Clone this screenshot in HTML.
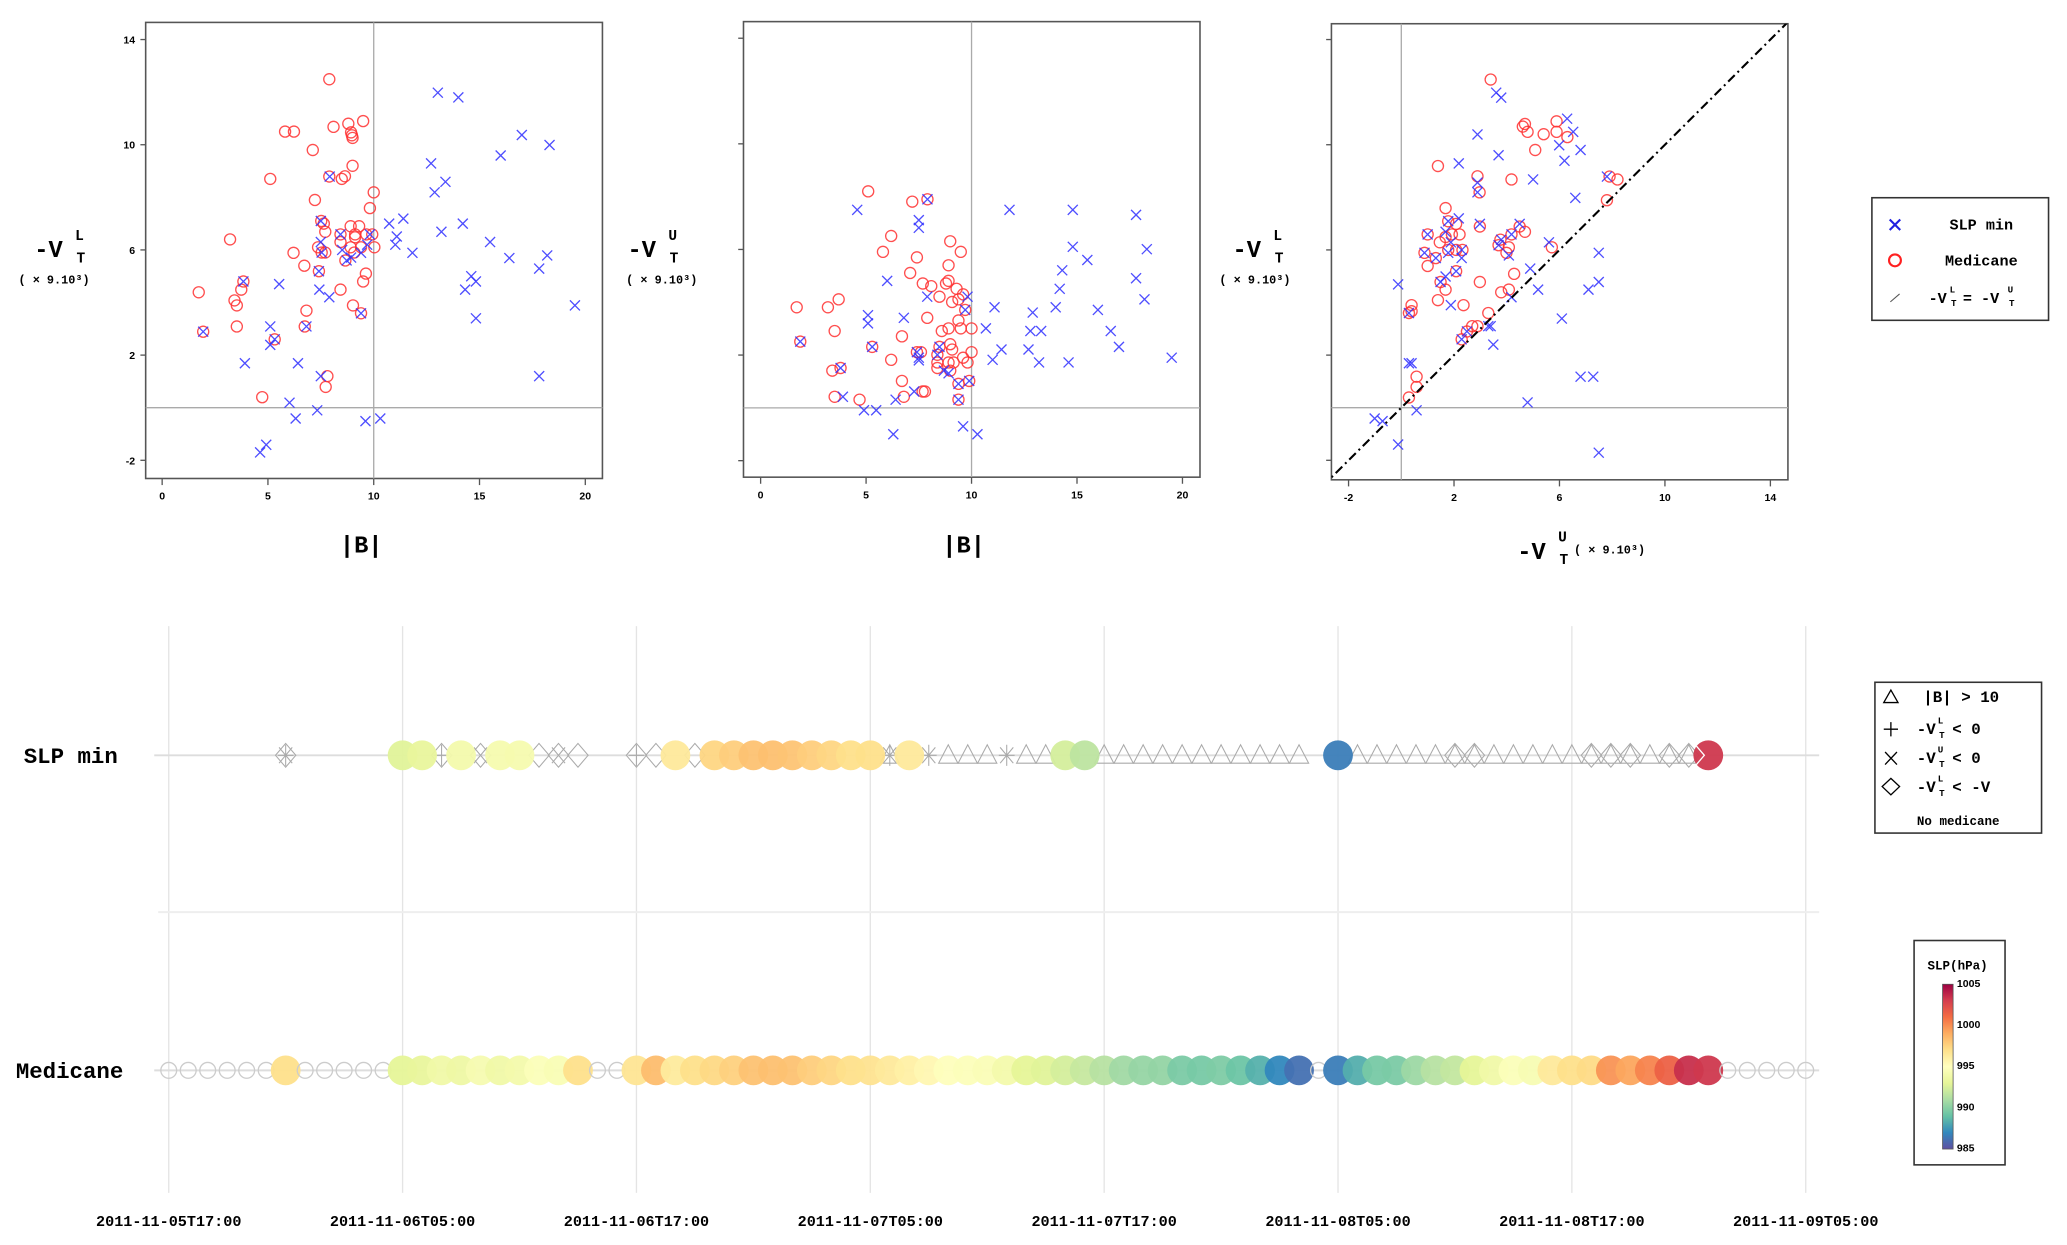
<!DOCTYPE html>
<html><head><meta charset="utf-8"><style>
html,body{margin:0;padding:0;background:#fff;}
svg{display:block;}
text{font-family:"Liberation Mono",monospace;font-weight:bold;fill:#000;}
.tk{font-family:"Liberation Sans",sans-serif;font-size:8px;}
</style></head><body>
<svg id="fig" width="2067" height="1245" viewBox="0 0 1568 944.5" preserveAspectRatio="none" xmlns="http://www.w3.org/2000/svg">
<defs>
<clipPath id="c1"><rect x="110.5" y="17" width="346.5" height="346"/></clipPath>
<clipPath id="c2"><rect x="564" y="16.4" width="346.3" height="345.6"/></clipPath>
<clipPath id="c3"><rect x="1010" y="18" width="346.3" height="346"/></clipPath>
<linearGradient id="cbg" x1="0" y1="1" x2="0" y2="0">
<stop offset="0" stop-color="#5e4fa2"/><stop offset="0.1" stop-color="#3288bd"/><stop offset="0.2" stop-color="#66c2a5"/><stop offset="0.3" stop-color="#abdda4"/><stop offset="0.4" stop-color="#e6f598"/><stop offset="0.5" stop-color="#ffffbf"/><stop offset="0.6" stop-color="#fee08b"/><stop offset="0.7" stop-color="#fdae61"/><stop offset="0.8" stop-color="#f46d43"/><stop offset="0.9" stop-color="#d53e4f"/><stop offset="1" stop-color="#9e0142"/>
</linearGradient>
</defs>
<g id="scatters"></g>
<g id="timeline"></g>
<g id="legends"></g>
</svg>
<script>
// ---------- Scatter data ----------
const p1MedB = [7.9,5.81,6.23,8.1,8.8,9.5,8.93,8.97,9.0,7.12,9.0,5.11,7.9,8.49,8.64,10.0,7.22,9.82,7.52,7.64,7.71,8.91,9.31,8.43,9.12,9.12,9.65,9.93,8.43,8.91,9.4,10.03,3.21,6.21,7.37,7.54,7.71,9.08,8.66,6.72,7.41,9.63,9.5,3.84,3.74,8.43,1.73,3.42,3.53,9.02,6.82,9.4,3.53,6.74,1.94,5.32,7.81,7.73,4.73];
const p1MedV = [12.49,10.5,10.5,10.68,10.8,10.9,10.47,10.36,10.26,9.8,9.2,8.7,8.79,8.7,8.8,8.19,7.9,7.59,7.1,7.0,6.69,6.9,6.9,6.59,6.59,6.48,6.59,6.59,6.3,6.1,6.1,6.1,6.4,5.89,6.1,5.9,5.9,5.9,5.6,5.4,5.19,5.1,4.8,4.8,4.49,4.49,4.39,4.08,3.89,3.89,3.69,3.59,3.09,3.09,2.89,2.6,1.2,0.79,0.4];
const p1SlpB = [13.03,14.0,17.0,18.31,16.0,12.71,13.39,12.88,7.92,11.4,10.73,14.21,13.2,11.09,11.02,11.83,15.5,16.41,18.2,17.82,14.61,14.83,14.32,19.51,14.83,17.82,7.5,7.5,7.54,8.43,8.51,9.82,9.69,8.72,8.93,9.4,7.41,7.43,7.9,5.53,3.84,9.4,5.11,6.82,1.94,5.32,5.11,3.91,6.42,7.5,6.02,7.33,6.31,9.61,10.31,4.92,4.63];
const p1SlpV = [11.98,11.8,10.37,9.99,9.59,9.29,8.59,8.19,8.79,7.19,7.0,7.0,6.69,6.51,6.2,5.89,6.3,5.69,5.79,5.29,5.0,4.8,4.49,3.89,3.4,1.2,7.1,6.3,5.9,6.59,6.0,6.59,6.2,5.6,5.71,5.89,5.19,4.49,4.2,4.7,4.8,3.59,3.09,3.09,2.89,2.6,2.39,1.69,1.69,1.2,0.19,-0.1,-0.41,-0.51,-0.41,-1.41,-1.7];

const p2MedB = [5.1,7.19,7.91,6.19,5.8,7.41,8.99,9.49,8.91,7.09,8.91,8.79,7.69,8.09,9.29,9.6,8.48,9.38,9.08,9.7,1.71,3.19,3.7,7.9,9.38,3.51,8.59,8.91,9.49,10.0,6.7,1.88,5.29,8.99,9.08,10.0,8.48,7.41,7.6,8.38,6.19,8.38,8.91,9.15,9.6,9.81,3.4,3.79,8.38,8.99,6.7,9.89,9.38,3.51,6.79,7.68,7.79,4.69,9.38];
const p2MedV = [8.2,7.81,7.9,6.51,5.91,5.7,6.31,5.91,5.4,5.11,4.81,4.71,4.71,4.61,4.51,4.3,4.21,4.11,4.01,3.71,3.81,3.81,4.11,3.41,3.31,2.91,2.91,3.01,3.01,3.01,2.71,2.51,2.31,2.41,2.21,2.11,2.31,2.11,2.11,2.01,1.82,1.72,1.72,1.72,1.9,1.72,1.41,1.51,1.51,1.41,1.02,1.02,0.91,0.42,0.42,0.62,0.62,0.31,0.31];
const p2SlpB = [4.58,7.91,7.5,7.5,11.8,14.8,17.8,14.8,18.31,15.49,14.3,6.0,17.8,14.18,7.9,9.81,18.2,11.09,13.99,9.7,12.9,15.99,5.09,5.09,6.79,10.68,12.79,13.3,16.6,1.88,5.29,8.48,16.99,11.42,12.7,7.41,7.5,7.5,8.38,11.0,13.2,14.6,19.49,3.79,8.69,8.91,9.38,9.89,3.9,6.4,7.28,9.38,4.9,5.48,9.6,10.28,6.29];
const p2SlpV = [7.5,7.9,7.11,6.82,7.5,7.5,7.31,6.1,6.01,5.6,5.21,4.81,4.91,4.51,4.21,4.21,4.11,3.81,3.81,3.71,3.61,3.71,3.51,3.2,3.41,3.01,2.91,2.91,2.91,2.51,2.31,2.31,2.31,2.21,2.21,2.11,1.9,1.8,2.01,1.82,1.72,1.72,1.9,1.51,1.41,1.31,0.91,1.02,0.42,0.31,0.62,0.31,-0.09,-0.09,-0.7,-1.0,-1.0];

const p3MedU = [3.39,4.69,4.61,4.79,5.4,5.89,5.89,6.3,5.08,1.39,2.89,4.18,7.9,8.2,2.97,7.8,1.68,1.78,2.08,2.98,4.49,4.69,1.0,1.68,1.92,2.21,4.18,3.76,1.46,3.69,4.08,1.78,2.08,2.32,5.71,0.88,3.99,1.31,1.0,2.08,4.28,1.49,2.98,1.68,3.79,4.08,1.39,2.36,0.39,0.39,0.29,3.3,2.69,2.89,2.49,2.29,0.58,0.58,0.29];
const p3MedL = [12.48,10.79,10.69,10.49,10.4,10.89,10.49,10.29,9.8,9.19,8.8,8.68,8.79,8.68,8.19,7.89,7.59,7.09,6.99,6.89,6.89,6.69,6.59,6.49,6.59,6.59,6.59,6.39,6.29,6.18,6.1,6.0,6.0,6.0,6.1,5.89,5.89,5.69,5.39,5.19,5.09,4.78,4.78,4.49,4.39,4.49,4.09,3.9,3.9,3.67,3.6,3.6,3.1,3.1,2.9,2.6,1.18,0.79,0.39];
const p3SlpU = [3.6,3.79,6.29,2.89,6.52,5.99,6.8,3.69,6.19,2.18,5.0,7.8,2.89,2.89,6.6,1.78,2.18,2.98,4.49,1.0,1.68,4.18,3.79,3.69,5.6,1.88,1.78,0.88,2.29,2.29,4.08,1.31,7.49,4.89,1.68,1.49,2.08,7.49,5.19,7.1,4.18,1.88,0.29,6.09,3.3,3.39,2.49,2.29,3.49,-0.12,0.29,0.39,6.8,7.28,4.79,0.58,-1.01,-0.71,-0.12,7.49];
const p3SlpL = [11.98,11.79,10.99,10.39,10.49,9.98,9.8,9.6,9.39,9.29,8.68,8.79,8.56,8.19,7.98,7.09,7.2,6.99,6.99,6.59,6.69,6.59,6.39,6.18,6.29,6.29,5.89,5.89,6.0,5.69,5.79,5.69,5.89,5.29,4.99,4.78,5.19,4.78,4.49,4.49,4.2,3.9,3.6,3.39,3.1,3.1,2.9,2.6,2.4,4.69,1.69,1.69,1.18,1.18,0.2,-0.1,-0.41,-0.51,-1.4,-1.71];

const xTicksB = [0,5,10,15,20];
const yTicksV = [14,10,6,2,-2];
const xTicksU = [-2,2,6,10,14];

// ---------- Timeline data (hourly from 2011-11-05T17:00) ----------
const timeLabels = ["2011-11-05T17:00","2011-11-06T05:00","2011-11-06T17:00","2011-11-07T05:00","2011-11-07T17:00","2011-11-08T05:00","2011-11-08T17:00","2011-11-09T05:00"];
const medicaneSLP = [null,null,null,null,null,null,997,null,null,null,null,null,
 993,993.2,993.8,993.6,994.3,993.8,994,994.7,994.5,997,null,null,
 996.7,998.4,996.3,997,997.3,997.6,998.2,998.3,998.2,997.7,997.4,997,996.8,996.4,996,995.5,994.9,994.8,994.6,994,993,992.8,992.4,991.9,991.4,990.7,990.4,990.3,989.6,989.5,989.7,989.2,988.4,987,986.2,
 null,
 986.6,988.3,989.5,989.6,990.6,991.4,991.8,993,993.8,994.7,994.4,996.4,997,997.2,999.8,999.2,1000.3,1001.5,1003.5,1003.2,
 null,null,null,null,null];
const slpMinHours = [12,13,15,17,18,26,28,29,30,31,32,33,34,35,36,38,46,47,60,79];
const slpMinSLP = [992.8,993.2,994,994.2,994.2,996.4,997.4,997.7,998.2,998.3,998.1,997.7,997.4,997,997,996.4,992.4,991.6,986.6,1003.2];
const flagHours = [6,14,16,19,20,21,24,25,27,37,39,40,41,42,43,44,45,48,49,50,51,52,53,54,55,56,57,58,61,62,63,64,65,66,67,68,69,70,71,72,73,74,75,76,77,78,79];
const flagCodes = ["DX+","D+","DX","D","DX","D","D+","D","D","TX+","X+","T","T","T","X+","T","T","T","T","T","T","T","T","T","T","T","T","T","T","T","T","T","T","TD","TD","T","T","T","T","T","TD","TD","TD","T","TD","TD","W"];

const NS="http://www.w3.org/2000/svg";
function mk(tag, attrs, parent){const e=document.createElementNS(NS,tag);for(const k in attrs)e.setAttribute(k,attrs[k]);parent.appendChild(e);return e;}

const spec=["#5e4fa2","#3288bd","#66c2a5","#abdda4","#e6f598","#ffffbf","#fee08b","#fdae61","#f46d43","#d53e4f","#9e0142"];
function hex(h){return [1,3,5].map(i=>parseInt(h.substr(i,2),16));}
function cmap(v){let f=(v-985)/20;f=Math.max(0,Math.min(1,f));const p=f*10;const i=Math.min(9,Math.floor(p));const t=p-i;const a=hex(spec[i]),b=hex(spec[i+1]);return "rgb("+a.map((x,k)=>Math.round(x+(b[k]-x)*t)).join(",")+")";}

const SC=document.getElementById('scatters');
function panel(id, box, xs, ys, xticks, yticks, showYLab, clip, medX, medY, slpX, slpY, vline, hline){
  const g=mk('g',{},SC);
  
  
  const fr=mk('rect',{x:box[0],y:box[1],width:box[2]-box[0],height:box[3]-box[1],fill:'#fff',stroke:'#555','stroke-width':1.2},g);
  
  
  const vl=mk('line',{x1:xs(vline),x2:xs(vline),y1:box[1],y2:box[3],stroke:'#aaa','stroke-width':1},g);
  
  
  const hl=mk('line',{x1:box[0],x2:box[2],y1:ys(hline),y2:ys(hline),stroke:'#aaa','stroke-width':1},g);
  
  
  xticks.forEach(t=>{
    const l=mk('line',{x1:xs(t),x2:xs(t),y1:box[3],y2:box[3]+5,stroke:'#555','stroke-width':1},g);
    
    
    const tx=mk('text',{x:xs(t),y:box[3]+16,'text-anchor':'middle',class:'tk'},g);
    tx.textContent=t;
    
    
  });
  yticks.forEach(t=>{
    const l=mk('line',{x1:box[0]-4,x2:box[0],y1:ys(t),y2:ys(t),stroke:'#555','stroke-width':1},g);
    
    
    if(showYLab){
      const tx=mk('text',{x:box[0]-8,y:ys(t)+3,'text-anchor':'end',class:'tk'},g);
      tx.textContent=t;
      
      
    }
  });
  const pg=mk('g',{'clip-path':'url(#'+clip+')'},g);
  medX.forEach((x,i)=>{
    const c=mk('circle',{cx:xs(x),cy:ys(medY[i]),r:4.2,fill:'none',stroke:'#ff3030','stroke-width':1,opacity:0.85},pg);
    
    
  });
  slpX.forEach((x,i)=>{
    const cx=xs(x),cy=ys(slpY[i]),s=3.8;
    const p=mk('path',{d:`M${cx-s},${cy-s}L${cx+s},${cy+s}M${cx-s},${cy+s}L${cx+s},${cy-s}`,stroke:'#3030ff','stroke-width':1,opacity:0.85},pg);
    
    
  });
  return g;
}
const xs1=b=>123+b*16.05, ys1=v=>30+(14-v)*19.95;
const xs2=b=>577+b*16.0, ys2=v=>29+(14-v)*20.03;
const xs3=u=>1063+u*20.0, ys3=v=>30+(14-v)*19.95;
panel('panel-b-vs-vl',[110.5,17,457,363],xs1,ys1,xTicksB,yTicksV,true,'c1',p1MedB,p1MedV,p1SlpB,p1SlpV,10,0);
panel('panel-b-vs-vu',[564,16.4,910.3,362],xs2,ys2,xTicksB,yTicksV,false,'c2',p2MedB,p2MedV,p2SlpB,p2SlpV,10,0);
const g3=panel('panel-vu-vs-vl',[1010,18,1356.3,364],xs3,ys3,xTicksU,yTicksV,false,'c3',p3MedU,p3MedL,p3SlpU,p3SlpL,0,0);
const diag=mk('line',{x1:xs3(-3),y1:ys3(-3),x2:xs3(16),y2:ys3(16),stroke:'#000','stroke-width':1.6,'stroke-dasharray':'7 3 1.5 3','clip-path':'url(#c3)'},g3);


// x tick labels for panel 3
// axis labels
function vlabel(x,y,sup,big,withScale){
  const g=mk('g',{},SC);
  
  
  const a=mk('text',{x:x,y:y,'font-size':18},g); a.textContent='-V';
  const b=mk('text',{x:x+31,y:y-13,'font-size':11},g); b.textContent=sup;
  const c=mk('text',{x:x+32,y:y+4,'font-size':11},g); c.textContent='T';
  if(withScale){const d=mk('text',{x:withScale[0],y:withScale[1],'font-size':9},g); d.textContent='( \u00d7 9.10\u00b3)';}
  return g;
}
vlabel(26,195,'L',true,[14,215]);
vlabel(476,195,'U',true,[475,215]);
vlabel(935,195,'L',true,[925,215]);
vlabel(1151,424,'U',true,[1194,420]);
[[274,'x-axis-title-b1'],[731,'x-axis-title-b2']].forEach(([x,n])=>{
  const t=mk('text',{x:x,y:419,'font-size':18,'text-anchor':'middle'},SC); t.textContent='|B|';
  
  
});

// ---------- Timeline ----------
const TL=document.getElementById('timeline');
const tx0=128, dx=177.4/12, yS=573, yM=812;
const hx=h=>tx0+h*dx;
timeLabels.forEach((lab,i)=>{
  const x=hx(i*12);
  const l=mk('line',{x1:x,x2:x,y1:475,y2:905,stroke:'#e4e4e4','stroke-width':1},TL);
  
  
  const t=mk('text',{x:x,y:930,'font-size':11.5,'text-anchor':'middle'},TL); t.textContent=lab;
  
  
});
const sep=mk('line',{x1:120,x2:1380,y1:692,y2:692,stroke:'#eee','stroke-width':1.5},TL);


[[yS,'slp-min-row-line'],[yM,'medicane-row-line']].forEach(([y,n])=>{
  const l=mk('line',{x1:117,x2:1380,y1:y,y2:y,stroke:'#ddd','stroke-width':1.5},TL);
  
  
});
const rl1=mk('text',{x:18,y:579,'font-size':17},TL); rl1.textContent='SLP min';


const rl2=mk('text',{x:12,y:818,'font-size':17},TL); rl2.textContent='Medicane';



// medicane row
medicaneSLP.forEach((v,h)=>{
  let c;
  if(v===null){c=mk('circle',{cx:hx(h),cy:yM,r:6,fill:'none',stroke:'#ccc','stroke-width':1},TL);}
  else{c=mk('circle',{cx:hx(h),cy:yM,r:11.3,fill:cmap(v),'fill-opacity':0.95},TL);}
  
  
});
// slp min flags
function flag(h,code){
  const x=hx(h),y=yS,st='#aaa';
  let d='';
  if(code.includes('T')) d+=`M${x-7.3},${y+6}L${x},${y-8}L${x+7.3},${y+6}Z`;
  if(code.includes('D')) d+=`M${x},${y-9}L${x+7.7},${y}L${x},${y+9}L${x-7.7},${y}Z`;
  if(code.includes('X')) d+=`M${x-5},${y-6}L${x+5},${y+6}M${x-5},${y+6}L${x+5},${y-6}`;
  if(code.includes('+')) d+=`M${x-6},${y}L${x+6},${y}M${x},${y-8}L${x},${y+8}`;
  const p=mk('path',{d:d,fill:'none',stroke:st,'stroke-width':0.8},TL);
  
  
}
flagHours.forEach((h,i)=>{ if(flagCodes[i]!=='W') flag(h,flagCodes[i]); });
slpMinHours.forEach((h,i)=>{
  const c=mk('circle',{cx:hx(h),cy:yS,r:11.3,fill:cmap(slpMinSLP[i]),'fill-opacity':0.95},TL);
  
  
});
flagHours.forEach((h,i)=>{ if(flagCodes[i]==='W'){
  const x=hx(h);
  const p=mk('path',{d:`M${x-9},${yS-7}L${x-3},${yS}L${x-9},${yS+7}`,fill:'none',stroke:'#fff','stroke-width':1},TL);
  
  
}});

// ---------- Legends ----------
const LG=document.getElementById('legends');
const l1=mk('g',{},LG);


mk('rect',{x:1420,y:150,width:134,height:93,fill:'#fff',stroke:'#333','stroke-width':1.2},l1);
mk('path',{d:'M1433.5,166.5L1441.5,174.5M1433.5,174.5L1441.5,166.5',stroke:'#2020e0','stroke-width':1.6},l1);
mk('circle',{cx:1437.5,cy:197.5,r:4.5,fill:'none',stroke:'#ff2020','stroke-width':1.6},l1);
mk('line',{x1:1434,y1:229,x2:1441,y2:223,stroke:'#555','stroke-width':0.8},l1);
let t=mk('text',{x:1503,y:174,'font-size':11.5,'text-anchor':'middle'},l1); t.textContent='SLP min';
 
t=mk('text',{x:1503,y:201.5,'font-size':11.5,'text-anchor':'middle'},l1); t.textContent='Medicane';
 
t=mk('text',{x:1463,y:230,'font-size':11.5},l1); t.textContent='-V';
t=mk('text',{x:1479,y:222,'font-size':7},l1); t.textContent='L';
t=mk('text',{x:1480,y:232,'font-size':7},l1); t.textContent='T';
t=mk('text',{x:1489,y:230,'font-size':11.5},l1); t.textContent='= -V';
t=mk('text',{x:1523,y:222,'font-size':7},l1); t.textContent='U';
t=mk('text',{x:1524,y:232,'font-size':7},l1); t.textContent='T';

const l2=mk('g',{},LG);


mk('rect',{x:1422.3,y:517.6,width:126.4,height:114.4,fill:'#fff',stroke:'#333','stroke-width':1.2},l2);
mk('path',{d:'M1429,533L1434.4,523.5L1439.8,533Z',fill:'none',stroke:'#000','stroke-width':1},l2);
mk('path',{d:'M1429,553.2L1439.8,553.2M1434.4,547.8L1434.4,558.6',fill:'none',stroke:'#000','stroke-width':1},l2);
mk('path',{d:'M1430,570.5L1439,580M1430,580L1439,570.5',fill:'none',stroke:'#000','stroke-width':1},l2);
mk('path',{d:'M1434.4,590.5L1441,596.7L1434.4,603L1427.8,596.7Z',fill:'none',stroke:'#000','stroke-width':1},l2);
t=mk('text',{x:1459,y:532.5,'font-size':12},l2); t.textContent='|B| > 10';
function vt(y,sup,rest,x2,sup2){
  let a=mk('text',{x:1454,y:y,'font-size':12},l2); a.textContent='-V';
  a=mk('text',{x:1470,y:y-8,'font-size':7},l2); a.textContent=sup;
  a=mk('text',{x:1471,y:y+3,'font-size':7},l2); a.textContent='T';
  a=mk('text',{x:1481,y:y,'font-size':12},l2); a.textContent=rest;
  if(sup2){a=mk('text',{x:1527,y:y-8,'font-size':7},l2); a.textContent=sup2;
    a=mk('text',{x:1528,y:y+3,'font-size':7},l2); a.textContent='T';}
}
vt(557,'L','< 0'); vt(579,'U','< 0'); vt(601,'L','< -V','U');
t=mk('text',{x:1485.5,y:626,'font-size':9.5,'text-anchor':'middle'},l2); t.textContent='No medicane';

const l3=mk('g',{},LG);


mk('rect',{x:1452,y:713.5,width:69,height:170.2,fill:'#fff',stroke:'#333','stroke-width':1.2},l3);
t=mk('text',{x:1485,y:735.5,'font-size':9.5,'text-anchor':'middle'},l3); t.textContent='SLP(hPa)';
mk('rect',{x:1473.6,y:746.7,width:8,height:125,fill:'url(#cbg)',stroke:'#555','stroke-width':0.6},l3);
const cbTicks=[1005,1000,995,990,985];
cbTicks.forEach(v=>{
  const y=871.6-(v-985)/20*125;
  const tt=mk('text',{x:1484.5,y:y+2,'font-size':5.5,class:'tk'},l3); tt.textContent=v;
  
  
});
</script>
</body></html>
